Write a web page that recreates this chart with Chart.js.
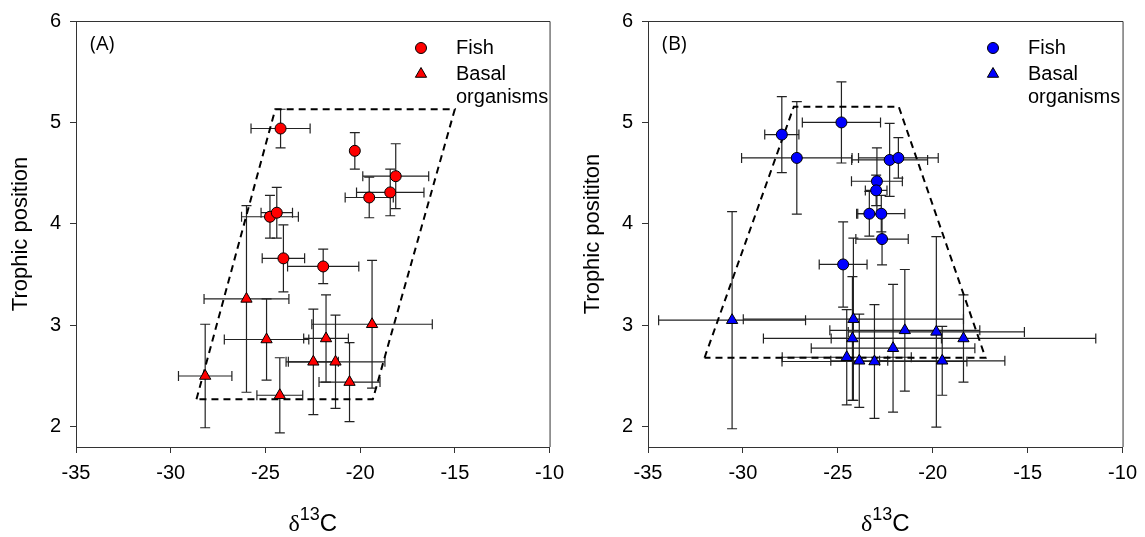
<!DOCTYPE html>
<html>
<head>
<meta charset="utf-8">
<script src="https://cdn.jsdelivr.net/npm/chart.js@4.4.1/dist/chart.umd.min.js"></script>
<style>
html,body{margin:0;padding:0;background:#fff;}
#wrap{position:relative;width:1145px;height:537px;overflow:hidden;}
canvas{position:absolute;top:0;}
</style>
</head>
<body>
<div id="wrap">
<canvas id="cA" width="572" height="537" style="left:0;width:572px;height:537px"></canvas>
<canvas id="cB" width="573" height="537" style="left:572px;width:573px;height:537px"></canvas>
</div>
<script>
// ---- tick labels ----
const xTicks = [-35, -30, -25, -20, -15, -10];
const yTicks = [2, 3, 4, 5, 6];

// ---- Panel A ----
const fishA_x    = [-24.20, -20.28, -18.12, -18.41, -19.52, -24.76, -24.40, -24.05, -21.95];
const fishA_y    = [4.94, 4.72, 4.47, 4.31, 4.26, 4.07, 4.11, 3.66, 3.58];
const fishA_xerr = [1.56, 0, 1.74, 1.78, 1.27, 1.50, 0.83, 1.12, 1.88];
const fishA_yerr = [0.19, 0.18, 0.32, 0.23, 0.20, 0.21, 0.25, 0.33, 0.17];

const basalA_x    = [-28.18, -26.00, -24.94, -24.24, -21.80, -22.47, -21.30, -20.56, -19.37];
const basalA_y    = [2.50, 3.26, 2.86, 2.31, 2.87, 2.64, 2.64, 2.44, 3.01];
const basalA_xerr = [1.41, 2.24, 2.23, 1.21, 1.18, 1.32, 2.61, 1.61, 3.18];
const basalA_yerr = [0.51, 0.92, 0.40, 0.37, 0.43, 0.52, 0.46, 0.39, 0.63];

const hullA_x = [-28.64, -24.48, -15.00, -19.33, -28.64];
const hullA_y = [2.27, 5.13, 5.13, 2.27, 2.27];

// ---- Panel B ----
const fishB_x    = [-27.95, -27.16, -24.81, -22.27, -21.81, -22.94, -22.98, -23.34, -22.71, -22.67, -24.72];
const fishB_y    = [4.88, 4.65, 5.00, 4.63, 4.65, 4.42, 4.33, 4.10, 4.10, 3.85, 3.60];
const fishB_xerr = [0.90, 2.91, 2.06, 2.00, 2.10, 1.34, 0.57, 0.67, 1.24, 1.38, 1.26];
const fishB_yerr = [0.375, 0.555, 0.40, 0.36, 0.20, 0.33, 0.15, 0.22, 0.18, 0.255, 0.42];

const basalB_x    = [-30.57, -24.18, -24.23, -24.53, -23.87, -23.07, -22.09, -21.47, -19.81, -19.50, -18.38];
const basalB_y    = [3.05, 3.06, 2.87, 2.685, 2.65, 2.643, 2.774, 2.95, 2.935, 2.65, 2.87];
const basalB_xerr = [3.87, 5.80, 4.69, 3.40, 1.50, 4.87, 4.31, 3.95, 4.64, 3.30, 6.97];
const basalB_yerr = [1.07, 0.80, 0.61, 0.47, 0.46, 0.56, 0.63, 0.60, 0.94, 0.34, 0.43];

const hullB_x = [-32.02, -27.32, -21.79, -17.22, -32.02];
const hullB_y = [2.68, 5.155, 5.155, 2.68, 2.68];

const legendLabels = ['Fish', 'Basal', 'organisms'];

function pts(xs, ys) { return xs.map((x, i) => ({x: x, y: ys[i]})); }

const SANS = '"Liberation Sans", Arial, sans-serif';
const AXIS = '#333333';

function makeChart(id, cfg) {
  const errPlugin = {
    id: 'err',
    beforeDatasetsDraw(chart) {
      const ctx = chart.ctx, xs = chart.scales.x, ys = chart.scales.y;
      ctx.save();
      ctx.strokeStyle = '#222';
      ctx.lineWidth = 1.2;
      const cap = 5;
      cfg.errors.forEach(e => {
        e.x.forEach((xv, i) => {
          const px = xs.getPixelForValue(xv), py = ys.getPixelForValue(e.y[i]);
          if (e.yerr[i] > 0) {
            const t = ys.getPixelForValue(e.y[i] + e.yerr[i]);
            const b = ys.getPixelForValue(e.y[i] - e.yerr[i]);
            ctx.beginPath();
            ctx.moveTo(px, t); ctx.lineTo(px, b);
            ctx.moveTo(px - cap, t); ctx.lineTo(px + cap, t);
            ctx.moveTo(px - cap, b); ctx.lineTo(px + cap, b);
            ctx.stroke();
          }
          if (e.xerr[i] > 0) {
            const l = xs.getPixelForValue(xv - e.xerr[i]);
            const r = xs.getPixelForValue(xv + e.xerr[i]);
            ctx.beginPath();
            ctx.moveTo(l, py); ctx.lineTo(r, py);
            ctx.moveTo(l, py - cap); ctx.lineTo(l, py + cap);
            ctx.moveTo(r, py - cap); ctx.lineTo(r, py + cap);
            ctx.stroke();
          }
        });
      });
      ctx.restore();
    },
    afterDraw(chart) {
      const ctx = chart.ctx, a = chart.chartArea;
      ctx.save();
      // frame top/right
      ctx.strokeStyle = AXIS; ctx.lineWidth = 1;
      ctx.beginPath();
      ctx.moveTo(a.left, a.top + 0.5); ctx.lineTo(a.right + 0.5, a.top + 0.5); ctx.lineTo(a.right + 0.5, a.bottom);
      ctx.stroke();
      // panel label
      ctx.fillStyle = '#000';
      ctx.font = '20px "Open Sans", sans-serif';
      ctx.textAlign = 'left'; ctx.textBaseline = 'middle';
      ctx.fillText(cfg.panel, a.left + 14, 44);
      // legend
      const lx = a.left + 345, tx = a.left + 380;
      ctx.font = '20px ' + SANS;
      ctx.fillText(legendLabels[0], tx, 48);
      ctx.fillText(legendLabels[1], tx, 74);
      ctx.fillText(legendLabels[2], tx, 97);
      ctx.fillStyle = cfg.color; ctx.strokeStyle = '#000'; ctx.lineWidth = 1;
      ctx.beginPath(); ctx.arc(lx, 48, 5.5, 0, Math.PI * 2); ctx.fill(); ctx.stroke();
      const r = 6.5, cy = 74;
      ctx.beginPath();
      for (let k = 0; k < 3; k++) {
        const ang = k * 2 * Math.PI / 3;
        const vx = lx + Math.sin(ang) * r, vy = cy - Math.cos(ang) * r;
        if (k === 0) ctx.moveTo(vx, vy); else ctx.lineTo(vx, vy);
      }
      ctx.closePath(); ctx.fill(); ctx.stroke();
      // y title
      ctx.fillStyle = '#000';
      ctx.save();
      ctx.translate(21, (a.top + a.bottom) / 2);
      ctx.rotate(-Math.PI / 2);
      ctx.font = '22px ' + SANS;
      ctx.textAlign = 'center'; ctx.textBaseline = 'middle';
      ctx.fillText(cfg.yTitle, 0, 0);
      ctx.restore();
      // x title delta 13 C
      const fBig = '24px ' + SANS, fSup = '18px ' + SANS, fDel = '24px "Liberation Serif", serif';
      ctx.textBaseline = 'alphabetic'; ctx.textAlign = 'left';
      ctx.font = fDel; const w1 = ctx.measureText('δ').width;
      ctx.font = fSup; const w2 = ctx.measureText('13').width;
      ctx.font = fBig; const w3 = ctx.measureText('C').width;
      let x0 = (a.left + a.right) / 2 - (w1 + w2 + w3) / 2;
      const base = 531;
      ctx.font = fDel; ctx.fillText('δ', x0, base); x0 += w1;
      ctx.font = fSup; ctx.fillText('13', x0, base - 11); x0 += w2;
      ctx.font = fBig; ctx.fillText('C', x0, base);
      ctx.restore();
    }
  };

  return new Chart(document.getElementById(id), {
    type: 'scatter',
    data: {
      datasets: [
        { data: pts(cfg.fish[0], cfg.fish[1]), pointStyle: 'circle', pointRadius: 5.5, pointHoverRadius: 5.5,
          backgroundColor: cfg.color, borderColor: '#000', borderWidth: 1 },
        { data: pts(cfg.basal[0], cfg.basal[1]), pointStyle: 'triangle', pointRadius: 6.5, pointHoverRadius: 6.5,
          backgroundColor: cfg.color, borderColor: '#000', borderWidth: 1 },
        { data: pts(cfg.hull[0], cfg.hull[1]), showLine: true, pointRadius: 0, borderColor: '#000',
          borderWidth: 2, borderDash: [7, 5], fill: false, tension: 0 }
      ]
    },
    options: {
      responsive: false, animation: false,
      events: [],
      layout: { padding: { top: 18, right: cfg.padRight, left: 0, bottom: 0 } },
      plugins: { legend: { display: false }, tooltip: { enabled: false } },
      scales: {
        x: {
          type: 'linear', min: -35, max: -10,
          afterBuildTicks: s => { s.ticks = xTicks.map(v => ({value: v})); },
          afterFit: s => { s.height = 90; },
          grid: { display: true, drawOnChartArea: false, drawTicks: true, tickLength: 6, color: AXIS },
          border: { display: true, color: AXIS, width: 1 },
          ticks: { color: '#000', font: { family: SANS, size: 20 }, padding: 8, maxRotation: 0 }
        },
        y: {
          type: 'linear', min: 1.8, max: 6,
          afterBuildTicks: s => { s.ticks = yTicks.map(v => ({value: v})); },
          afterFit: s => { s.width = 76; },
          grid: { display: true, drawOnChartArea: false, drawTicks: true, tickLength: 6, color: AXIS },
          border: { display: true, color: AXIS, width: 1 },
          ticks: { color: '#000', font: { family: SANS, size: 20 }, padding: 9 }
        }
      }
    },
    plugins: [errPlugin]
  });
}

makeChart('cA', {
  panel: '(A)', color: '#ff0000', yTitle: 'Trophic position', padRight: 14,
  fish: [fishA_x, fishA_y], basal: [basalA_x, basalA_y], hull: [hullA_x, hullA_y],
  errors: [
    { x: fishA_x, y: fishA_y, xerr: fishA_xerr, yerr: fishA_yerr },
    { x: basalA_x, y: basalA_y, xerr: basalA_xerr, yerr: basalA_yerr }
  ]
});
makeChart('cB', {
  panel: '(B)', color: '#0000ff', yTitle: 'Trophic posititon', padRight: 17,
  fish: [fishB_x, fishB_y], basal: [basalB_x, basalB_y], hull: [hullB_x, hullB_y],
  errors: [
    { x: fishB_x, y: fishB_y, xerr: fishB_xerr, yerr: fishB_yerr },
    { x: basalB_x, y: basalB_y, xerr: basalB_xerr, yerr: basalB_yerr }
  ]
});
</script>
</body>
</html>
